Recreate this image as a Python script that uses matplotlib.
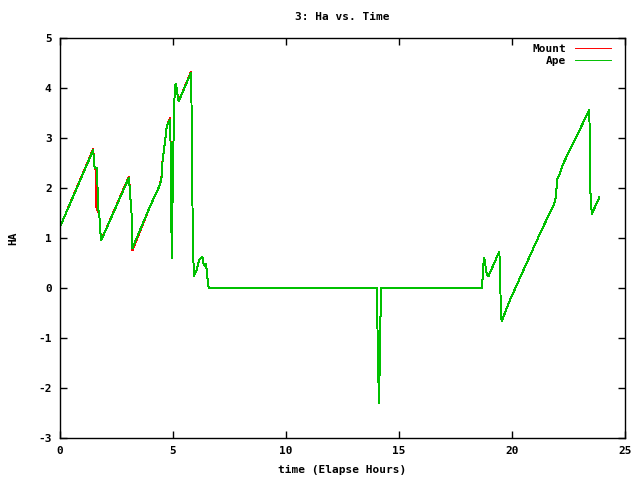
import matplotlib
matplotlib.use("Agg")
from matplotlib import pyplot as plt

# Ape series (time in elapsed hours, HA)
ape_t = [0.00, 1.47, 1.52, 1.56, 1.65, 1.67, 1.74, 1.78, 1.83,
         3.05, 3.17, 3.20, 3.98, 4.42, 4.50, 4.54, 4.60, 4.65, 4.72, 4.87,
         4.90, 4.92, 4.97, 4.97, 5.03, 5.08, 5.13, 5.19, 5.25, 5.80,
         5.83, 5.87, 5.92, 6.05, 6.16, 6.30, 6.34, 6.42, 6.46, 6.49, 6.54, 6.58,
         14.04, 14.04, 14.08, 14.13, 14.13, 14.17, 14.17, 14.22, 14.22,
         18.69, 18.69, 18.73, 18.77, 18.81, 18.88, 18.95, 19.44, 19.47, 19.50, 19.54,
         19.91, 21.24, 21.87, 21.95, 21.99, 22.12, 22.27, 23.42, 23.44, 23.46, 23.53, 23.86]
ape_ha = [1.22, 2.76, 2.43, 2.40, 2.40, 1.63, 1.46, 1.13, 0.96,
          2.21, 1.46, 0.79, 1.63, 2.06, 2.23, 2.56, 2.76, 2.93, 3.23, 3.37,
          2.69, 1.29, 0.59, 1.46, 3.16, 4.03, 4.09, 3.89, 3.73, 4.31,
          3.29, 1.26, 0.24, 0.36, 0.56, 0.63, 0.49, 0.43, 0.49, 0.36, 0.13, 0.00,
          0.00, -0.57, -1.74, -2.31, -1.74, -1.74, -0.57, -0.57, 0.00,
          0.00, 0.13, 0.46, 0.61, 0.49, 0.29, 0.23, 0.73, 0.38, -0.34, -0.67,
          -0.24, 1.09, 1.69, 1.83, 2.16, 2.29, 2.49, 3.56, 3.03, 1.99, 1.48, 1.81]

# Mount series: nearly the same, differs a little around t=1.6 and t=3.2
mount_t = [0.00, 1.47, 1.52, 1.56, 1.59, 1.60, 1.67, 1.74, 1.78, 1.83,
           3.05, 3.17, 3.20, 3.98, 4.42, 4.50, 4.54, 4.60, 4.65, 4.72, 4.87,
           4.90, 4.92, 4.97, 4.97, 5.03, 5.08, 5.13, 5.19, 5.25, 5.80,
           5.83, 5.87, 5.92, 6.05, 6.16, 6.30, 6.34, 6.42, 6.46, 6.49, 6.54, 6.58,
           14.04, 14.04, 14.08, 14.13, 14.13, 14.17, 14.17, 14.22, 14.22,
           18.69, 18.69, 18.73, 18.77, 18.81, 18.88, 18.95, 19.44, 19.47, 19.50, 19.54,
           19.91, 21.24, 21.87, 21.95, 21.99, 22.12, 22.27, 23.42, 23.44, 23.46, 23.53, 23.86]
mount_ha = [1.22, 2.78, 2.43, 2.40, 2.30, 1.62, 1.55, 1.46, 1.13, 0.96,
            2.23, 1.46, 0.75, 1.63, 2.06, 2.25, 2.58, 2.76, 2.93, 3.23, 3.40,
            2.69, 1.29, 0.59, 1.46, 3.16, 4.03, 4.09, 3.89, 3.73, 4.33,
            3.29, 1.26, 0.24, 0.36, 0.56, 0.63, 0.49, 0.43, 0.49, 0.36, 0.13, 0.00,
            0.00, -0.57, -1.74, -2.31, -1.74, -1.74, -0.57, -0.57, 0.00,
            0.00, 0.13, 0.46, 0.61, 0.49, 0.29, 0.23, 0.73, 0.38, -0.34, -0.67,
            -0.24, 1.09, 1.69, 1.83, 2.16, 2.29, 2.49, 3.56, 3.03, 1.99, 1.48, 1.81]

x_ticks = [0, 5, 10, 15, 20, 25]
y_ticks = [-3, -2, -1, 0, 1, 2, 3, 4, 5]

plt.rcParams['font.family'] = 'DejaVu Sans Mono'
plt.rcParams['font.weight'] = 'bold'
plt.rcParams['font.size'] = 8
plt.rcParams['axes.unicode_minus'] = False

fig = plt.figure(figsize=(6.4, 4.8), dpi=100)
ax = fig.add_axes([60/640, 42/480, 565/640, 400/480])

ax.plot(mount_t, mount_ha, color='#ff0000', lw=0.7, label='Mount', antialiased=False)
ax.plot(ape_t, ape_ha, color='#00c000', lw=0.7, label='Ape', antialiased=False)

ax.set_xlim(0, 25)
ax.set_ylim(-3, 5)
ax.set_xticks(x_ticks)
ax.set_yticks(y_ticks)
ax.tick_params(direction='in', top=True, right=True, length=5, width=1, pad=6)
for s in ax.spines.values():
    s.set_linewidth(1)

ax.set_title('3: Ha vs. Time', fontsize=8, fontweight='bold', pad=13)
ax.set_xlabel('time (Elapse Hours)', fontsize=8, fontweight='bold', labelpad=6)
ax.set_ylabel('HA', fontsize=8, fontweight='bold', labelpad=14)

ax.legend(loc='upper right', bbox_to_anchor=(0.982, 0.993), frameon=False,
          markerfirst=False, handlelength=3.3, borderaxespad=0,
          labelspacing=0.2, fontsize=8, borderpad=0.3)

fig.savefig('out.png', dpi=100)
